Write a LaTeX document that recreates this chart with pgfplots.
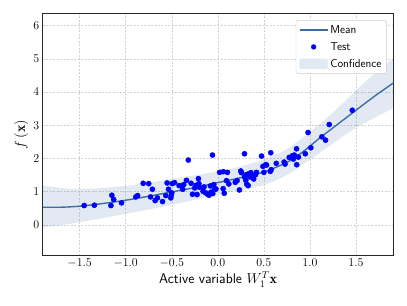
\documentclass[border=0pt]{standalone}
\usepackage{pgfplots}
\pgfplotsset{compat=1.18}
\usepgfplotslibrary{fillbetween}
\usepackage{fontspec}
\definecolor{meanc}{HTML}{3A6EA5}
\definecolor{bandc}{HTML}{E1E9F3}
\begin{document}
\begin{tikzpicture}
\begin{axis}[
  scale only axis, width=350bp, height=242bp,
  xmin=-1.9, xmax=1.905, ymin=-0.93, ymax=6.37,
  xtick={-1.5,-1,-0.5,0,0.5,1,1.5},
  xticklabel style={/pgf/number format/.cd, fixed, fixed zerofill, precision=1},
  ytick={0,1,2,3,4,5,6},
  tick style={draw=none},
  grid=major,
  grid style={dashed, dash pattern=on 2pt off 1.5pt, gray!35, line width=0.4pt},
  axis line style={black!85, line width=0.8pt},
  tick label style={font=\fontsize{12}{14}\selectfont},
  xlabel={\sffamily Active variable $W_1^T\mathbf{x}$},
  ylabel={$f\left(\mathbf{x}\right)$},
  label style={font=\fontsize{14}{16}\selectfont},
  xlabel style={yshift=3pt},
  ylabel style={yshift=-2pt},
  legend style={at={(0.981,0.972)}, anchor=north east, draw=black!20, rounded corners=2pt,
    font=\sffamily\fontsize{11.5}{13}\selectfont, row sep=3.5pt, inner sep=3pt},
  legend cell align=left,
]
\addplot[name path=U, draw=none, smooth, forget plot] coordinates {
(-1.91,1.19) (-1.7,1.11) (-1.5,1.08) (-1.25,1.11) (-1.0,1.17) (-0.75,1.26) (-0.5,1.38) (-0.25,1.49) (0.0,1.61) (0.25,1.76) (0.5,1.97) (0.75,2.28) (1.0,2.8) (1.25,3.38) (1.5,4.05) (1.7,4.55) (1.91,5.03)};
\addplot[name path=L, draw=none, smooth, forget plot] coordinates {
(-1.91,-0.08) (-1.7,-0.01) (-1.5,0.08) (-1.25,0.2) (-1.0,0.33) (-0.75,0.46) (-0.5,0.6) (-0.25,0.75) (0.0,0.91) (0.25,1.05) (0.5,1.2) (0.75,1.5) (1.0,1.96) (1.25,2.45) (1.5,2.92) (1.7,3.22) (1.91,3.52)};
\addplot[fill=meanc, fill opacity=0.15, draw=none, forget plot] fill between[of=U and L];
\addplot[meanc, line width=1.4pt, smooth,
  legend image code/.code={\draw[meanc, line width=1.4pt] (0bp,0bp) -- (28bp,0bp);}] coordinates {
(-1.91,0.53) (-1.7,0.53) (-1.5,0.56) (-1.25,0.64) (-1.0,0.74) (-0.75,0.86) (-0.5,0.99) (-0.25,1.12) (0.0,1.27) (0.25,1.42) (0.5,1.59) (0.75,1.88) (0.9,2.15) (1.0,2.37) (1.1,2.6) (1.25,2.92) (1.5,3.45) (1.7,3.87) (1.91,4.28)
};
\addlegendentry{Mean}
\addplot[only marks, mark=*, mark size=2.6pt, color=blue, fill=blue,
  legend image code/.code={\fill[blue] (14bp,0bp) circle (2.4bp);}] coordinates {
(-1.45,0.58) (-1.34,0.59) (-1.16,0.58) (-1.15,0.89) (-1.13,0.76) (-1.045,0.66)
(-0.89,0.84) (-0.87,0.88) (-0.81,1.25) (-0.75,1.24) (-0.73,0.84) (-0.71,1.07)
(-0.68,0.73) (-0.655,0.81) (-0.60,0.70) (-0.565,0.88) (-0.55,1.26) (-0.535,1.07)
(-0.51,0.81) (-0.505,0.89) (-0.50,0.96) (-0.495,1.24) (-0.47,1.27) (-0.42,1.18)
(-0.39,1.17) (-0.38,1.07) (-0.37,1.21) (-0.34,1.34) (-0.32,1.95) (-0.29,1.25)
(-0.275,0.92) (-0.25,1.11) (-0.225,0.91) (-0.235,1.19) (-0.21,1.39) (-0.205,1.24)
(-0.20,1.13) (-0.16,1.01) (-0.15,1.14) (-0.135,0.97) (-0.115,0.93) (-0.095,0.89)
(-0.08,1.17) (-0.075,0.98) (-0.058,2.10) (-0.054,0.94) (-0.043,1.21) (-0.036,1.06)
(-0.02,1.08) (0.02,1.58) (0.06,1.60) (0.058,1.09) (0.07,0.95) (0.094,1.33)
(0.105,1.58) (0.12,1.23) (0.19,1.28) (0.21,1.33) (0.235,1.05) (0.25,1.62)
(0.257,1.57) (0.29,2.14) (0.29,1.44) (0.31,1.51) (0.304,1.34) (0.315,1.22)
(0.33,1.53) (0.33,1.18) (0.35,1.44) (0.36,1.57) (0.37,1.46) (0.39,1.38)
(0.41,1.51) (0.42,1.58) (0.475,2.07) (0.49,1.76) (0.50,1.58) (0.52,1.81)
(0.53,1.80) (0.57,1.61) (0.575,2.17) (0.58,1.66) (0.635,1.85) (0.72,1.89)
(0.73,1.83) (0.775,2.03) (0.81,2.08) (0.82,1.98) (0.83,2.10) (0.855,2.29) (0.857,1.81)
(0.875,2.04) (0.95,2.14) (0.98,2.78) (1.01,2.32) (1.13,2.65) (1.17,2.55)
(1.21,3.02) (1.46,3.45)
};
\addlegendentry{Test}
\addlegendimage{legend image code/.code={\fill[bandc] (0bp,-5bp) rectangle (28bp,5bp);}}
\addlegendentry{Confidence}
\end{axis}
\pgfresetboundingbox
\path (current axis.south west) ++(-42.7bp,-50bp) coordinate (bl);
\path (current axis.north east) ++(13.7bp,13.3bp) coordinate (tr);
\path (bl) rectangle (tr);
\end{tikzpicture}
\end{document}
